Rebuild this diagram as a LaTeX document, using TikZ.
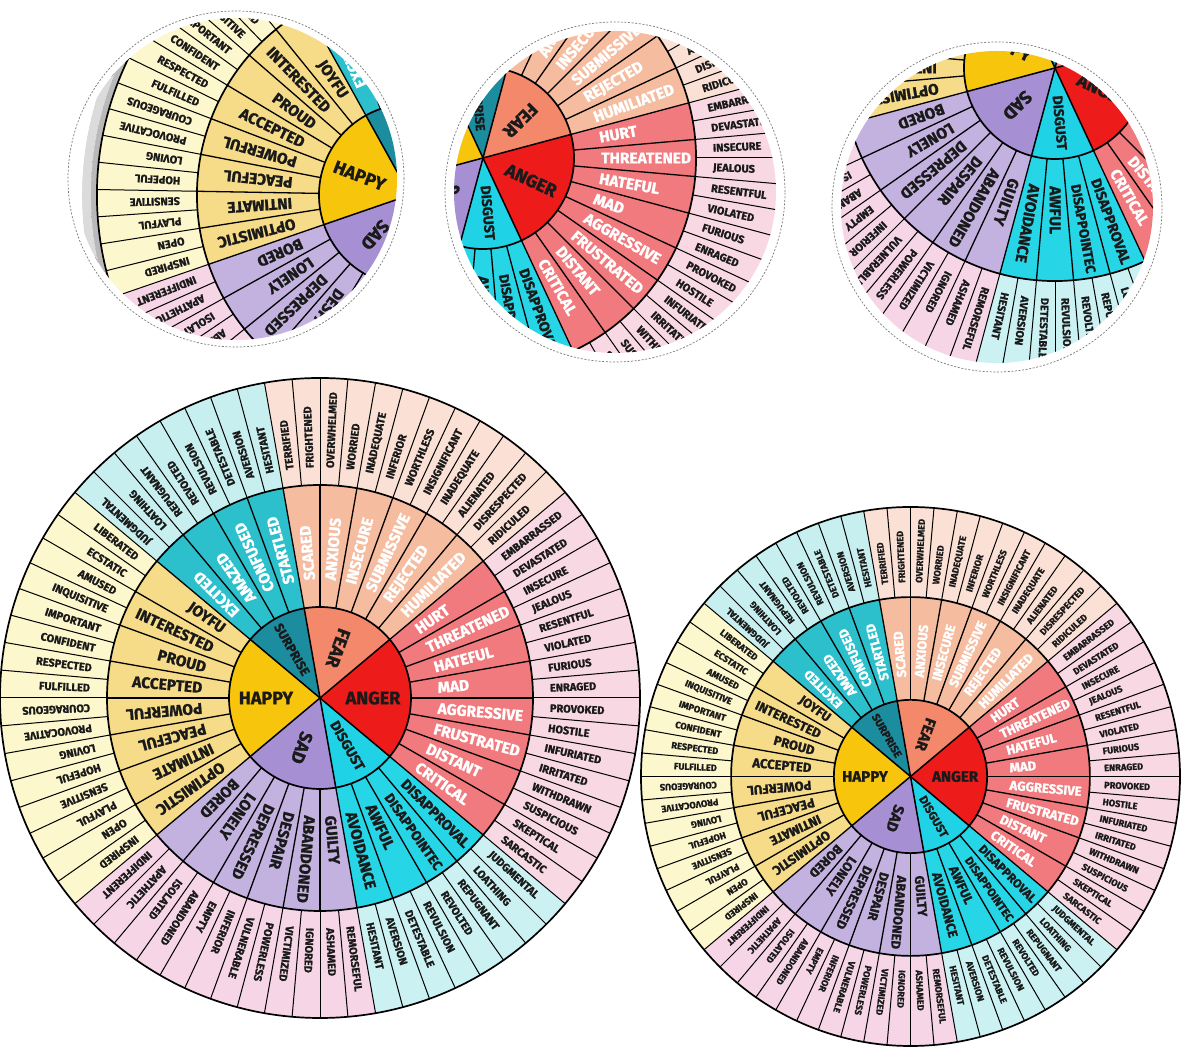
\documentclass[tikz,border=0pt]{standalone}
\usepackage{fontspec}
\setmainfont{Fira Sans}[BoldFeatures={FakeBold=1.2}]
\usepackage{graphicx}
\definecolor{hapC}{HTML}{F7C50C}
\definecolor{hapS}{HTML}{F6DC88}
\definecolor{hapT}{HTML}{FCF7CC}
\definecolor{surC}{HTML}{1C8C9F}
\definecolor{surS}{HTML}{2CC0CC}
\definecolor{surT}{HTML}{C8EFEF}
\definecolor{feaC}{HTML}{F4886A}
\definecolor{feaS}{HTML}{F6BC9F}
\definecolor{feaT}{HTML}{FBE1D5}
\definecolor{angC}{HTML}{EE1B1B}
\definecolor{angS}{HTML}{F17A7E}
\definecolor{angT}{HTML}{F8D8E3}
\definecolor{disC}{HTML}{20D2E6}
\definecolor{disS}{HTML}{26D5E6}
\definecolor{disT}{HTML}{CBF1F3}
\definecolor{sadC}{HTML}{A690D3}
\definecolor{sadS}{HTML}{C3B2E0}
\definecolor{sadT}{HTML}{F6D6E6}
\definecolor{dashgray}{HTML}{7A7A7A}
\definecolor{darktxt}{HTML}{1A1A1A}

\def\rc{91}\def\rs{213}\def\ro{320}

\def\FearSec{SCARED,ANXIOUS,INSECURE,SUBMISSIVE,REJECTED,HUMILIATED}
\def\AngerSec{HURT,THREATENED,HATEFUL,MAD,AGGRESSIVE,FRUSTRATED,DISTANT,CRITICAL}
\def\DisgSec{DISAPPROVAL,DISAPPOINTEC,AWFUL,AVOIDANCE}
\def\SadSec{GUILTY,ABANDONED,DESPAIR,DEPRESSED,LONELY,BORED}
\def\HappySec{OPTIMISTIC,INTIMATE,PEACEFUL,POWERFUL,ACCEPTED,PROUD,INTERESTED,JOYFU}
\def\SurpSec{EXCITED,AMAZED,CONFUSED,STARTLED}

\def\FearTer{TERRIFIED,FRIGHTENED,OVERWHELMED,WORRIED,INADEQUATE,INFERIOR,WORTHLESS,INSIGNIFICANT,INADEQUATE,ALIENATED,DISRESPECTED,RIDICULED}
\def\AngerTer{EMBARRASSED,DEVASTATED,INSECURE,JEALOUS,RESENTFUL,VIOLATED,FURIOUS,ENRAGED,PROVOKED,HOSTILE,INFURIATED,IRRITATED,WITHDRAWN,SUSPICIOUS,SKEPTICAL,SARCASTIC}
\def\DisgTer{JUDGMENTAL,LOATHING,REPUGNANT,REVOLTED,REVULSION,DETESTABLE,AVERSION,HESITANT}
\def\SadTer{REMORSEFUL,ASHAMED,IGNORED,VICTIMIZED,POWERLESS,VULNERABLE,INFERIOR,EMPTY,ABANDONED,ISOLATED,APATHETIC,INDIFFERENT}
\def\HappyTer{INSPIRED,OPEN,PLAYFUL,SENSITIVE,HOPEFUL,LOVING,PROVOCATIVE,COURAGEOUS,FULFILLED,RESPECTED,CONFIDENT,IMPORTANT,INQUISITIVE,AMUSED,ECSTATIC,LIBERATED}
\def\SurpTer{JUDGMENTAL,LOATHING,REPUGNANT,REVOLTED,REVULSION,DETESTABLE,AVERSION,HESITANT}

\newsavebox\fitbox
\newcommand\fitto[2]{\sbox\fitbox{#2}\ifdim\wd\fitbox>#1\relax\resizebox{#1}{!}{\usebox\fitbox}\else\usebox\fitbox\fi}

\tikzset{
  sectxt/.style={font=\fontsize{15.5}{16}\selectfont\bfseries, inner sep=0pt},
  tertxt/.style={font=\fontsize{11}{11}\selectfont\bfseries, inner sep=0pt},
  coretxt/.style={font=\fontsize{18}{18}\selectfont\bfseries, inner sep=0pt, text=darktxt},
  divT/.style={line width=1pt, black},
  divS/.style={line width=1.3pt, black},
  divC/.style={line width=1.5pt, black, line cap=round},
  ringline/.style={line width=1.7pt, black},
  dashring/.style={dashgray, line width=0.7pt, dash pattern=on 2pt off 1.6pt}
}

% #1 prefix, #2 start angle, #3 step, #4 radius, #5 style, #6 text colour, #7 list, #8 max width
\newcommand\txtgrp[8]{%
  \foreach \w [count=\i from 0] in #7 {%
    \pgfmathsetmacro\mm{#2-#3*(\i+0.5)}%
    \pgfmathtruncatemacro\inw{and(mod(\mm+720,360)>140,mod(\mm+720,360)<180)}%
    \ifnum\inw=1
      \node[#5, text=#6, rotate=\mm-180, anchor=east] (#1\i) at (\mm:#4) {\fitto{#8}{\w}};
    \else
      \node[#5, text=#6, rotate=\mm, anchor=west] (#1\i) at (\mm:#4) {\fitto{#8}{\w}};
    \fi
  }%
}

\newcommand\drawwheel[1]{%
  \foreach \a/\b/\cc/\cs/\ct in {100/40/feaC/feaS/feaT, 40/-40/angC/angS/angT, -40/-80/disC/disS/disT, -80/-140/sadC/sadS/sadT, -140/-220/hapC/hapS/hapT, -220/-260/surC/surS/surT}{%
    \fill[fill=\cc] (0,0) -- (\a:\rc) arc[start angle=\a, end angle=\b, radius=\rc] -- cycle;
    \fill[fill=\cs] (\a:\rc) arc[start angle=\a, end angle=\b, radius=\rc] -- (\b:\rs) arc[start angle=\b, end angle=\a, radius=\rs] -- cycle;
    \fill[fill=\ct] (\a:\rs) arc[start angle=\a, end angle=\b, radius=\rs] -- (\b:\ro) arc[start angle=\b, end angle=\a, radius=\ro] -- cycle;
  }%
  \foreach \k in {0,5,...,355} \draw[divT] (\k:\rs) -- (\k:\ro);
  \foreach \k in {0,10,...,350} \draw[divS] (\k:\rc) -- (\k:\rs);
  \foreach \k in {-40,40,100,140,220,280} \draw[divC] (0,0) -- (\k:\rc);
  \draw[ringline] (0,0) circle[radius=\rc];
  \draw[ringline] (0,0) circle[radius=\rs];
  \draw[ringline] (0,0) circle[radius=\ro];
  \txtgrp{#1fs}{100}{10}{118}{sectxt}{white}{\FearSec}{90pt}
  \txtgrp{#1as}{40}{10}{118}{sectxt}{white}{\AngerSec}{90pt}
  \txtgrp{#1ds}{-40}{10}{118}{sectxt}{darktxt}{\DisgSec}{90pt}
  \txtgrp{#1sas}{-80}{10}{118}{sectxt}{darktxt}{\SadSec}{90pt}
  \txtgrp{#1hs}{-140}{10}{118}{sectxt}{darktxt}{\HappySec}{90pt}
  \txtgrp{#1ss}{-220}{10}{118}{sectxt}{white}{\SurpSec}{90pt}
  \txtgrp{#1ft}{100}{5}{230}{tertxt}{darktxt}{\FearTer}{80pt}
  \txtgrp{#1at}{40}{5}{230}{tertxt}{darktxt}{\AngerTer}{80pt}
  \txtgrp{#1dt}{-40}{5}{230}{tertxt}{darktxt}{\DisgTer}{80pt}
  \txtgrp{#1sat}{-80}{5}{230}{tertxt}{darktxt}{\SadTer}{80pt}
  \txtgrp{#1ht}{-140}{5}{230}{tertxt}{darktxt}{\HappyTer}{80pt}
  \txtgrp{#1st}{-220}{5}{230}{tertxt}{darktxt}{\SurpTer}{80pt}
  \node[coretxt] (#1anger) at (0:53) {ANGER};
  \node[coretxt, rotate=-110] (#1fear) at (70:53) {FEAR};
  \node[coretxt, rotate=-60, font=\fontsize{13}{13}\selectfont\bfseries] (#1surprise) at (120:56) {SURPRISE};
  \node[coretxt] (#1happy) at (180:54) {HAPPY};
  \node[coretxt, rotate=-110] (#1sad) at (250:53) {SAD};
  \node[coretxt, rotate=-60, font=\fontsize{14}{14}\selectfont\bfseries] (#1disgust) at (300:55) {DISGUST};
}

\begin{document}
\begin{tikzpicture}[x=1pt,y=1pt]
\useasboundingbox (0,0) rectangle (1184,1051);
\fill[white] (0,0) rectangle (1184,1051);

% large wheel
\begin{scope}[shift={(320,353)}]
  \drawwheel{B}
\end{scope}

% small wheel
\begin{scope}[shift={(910.5,274.5)}, scale=0.8422, transform shape]
  \drawwheel{S}
\end{scope}

% magnified circle 1 (happy)
\begin{scope}
  \clip (236,872) circle[radius=161];
  \begin{scope}[shift={(410,856)}, rotate=-21, transform shape]
    \drawwheel{P}
    \fill[gray!55, even odd rule] (0,0) circle[radius=313] (0,0) circle[radius=319];
    \fill[gray!28, even odd rule] (0,0) circle[radius=319] (0,0) circle[radius=328];
    \fill[white, even odd rule] (0,0) circle[radius=328] (0,0) circle[radius=430];
    \draw[ringline] (0,0) circle[radius=313];
  \end{scope}
\end{scope}
\draw[dashring] (236,872) circle[radius=168];

% magnified circle 2 (anger)
\begin{scope}
  \clip (615,859) circle[radius=161];
  \begin{scope}[shift={(483,893)}, rotate=-25, transform shape]
    \drawwheel{Q}
  \end{scope}
\end{scope}
\draw[dashring] (615,859) circle[radius=170];

% magnified circle 3 (sad / disgust)
\begin{scope}
  \clip (997,844) circle[radius=156];
  \begin{scope}[shift={(1055,983)}, rotate=-25, transform shape]
    \drawwheel{R}
  \end{scope}
\end{scope}
\draw[dashring] (997,844) circle[radius=165];
\end{tikzpicture}
\end{document}
